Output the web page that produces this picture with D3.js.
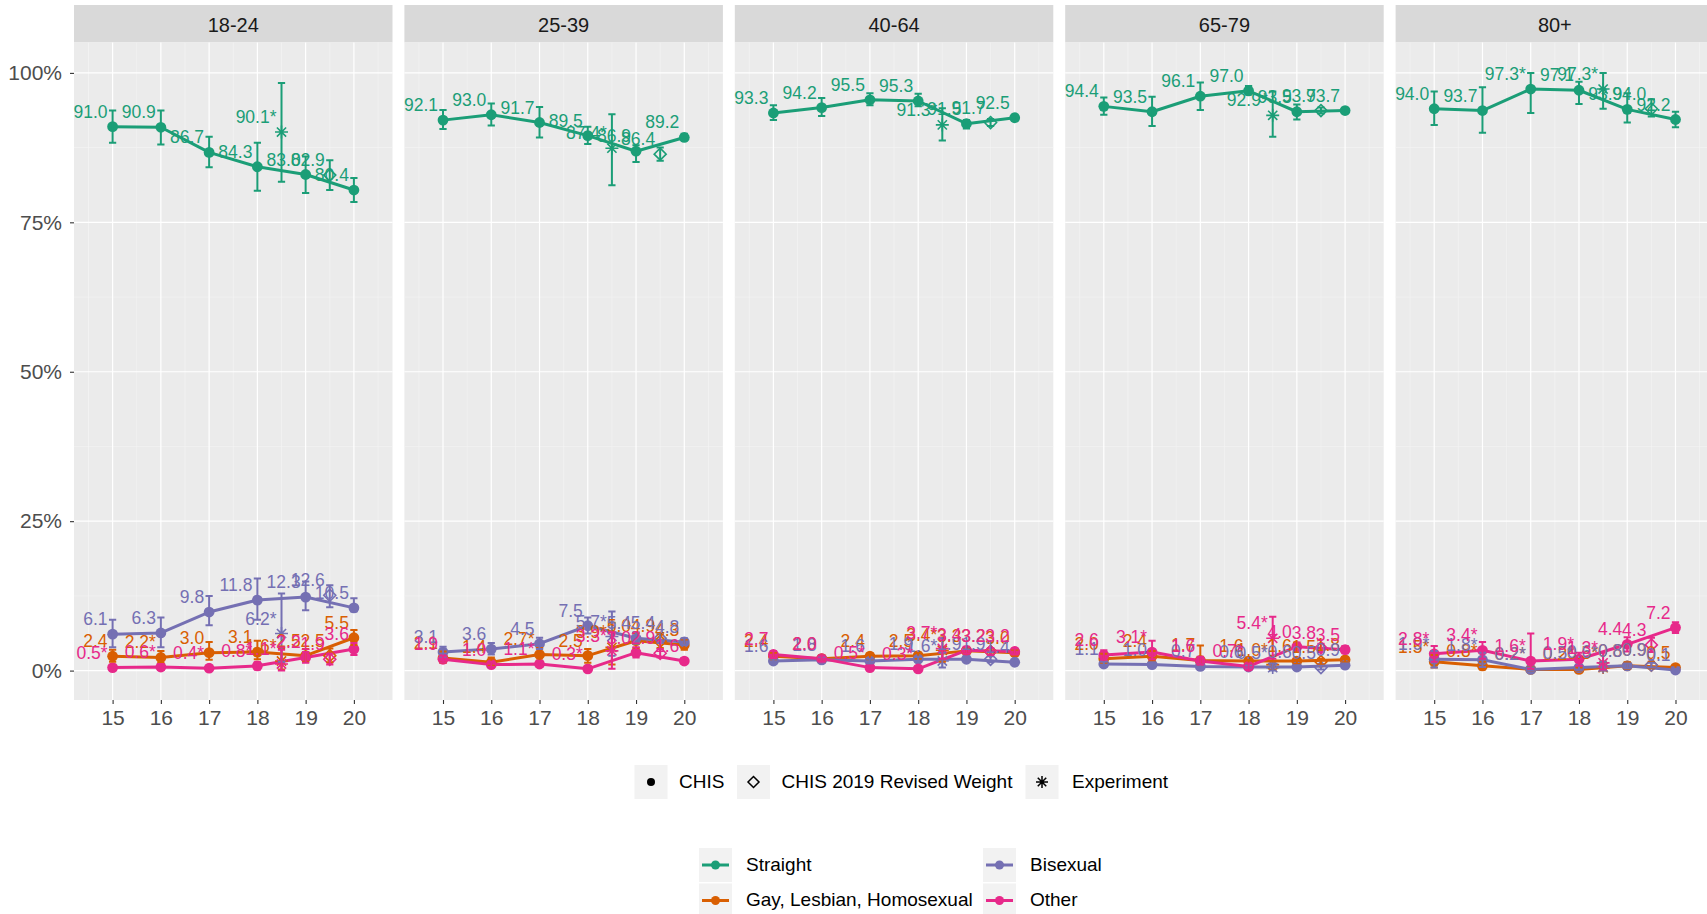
<!DOCTYPE html>
<html><head><meta charset="utf-8">
<script src="https://cdn.jsdelivr.net/npm/d3@7"></script>
<style>
html,body{margin:0;padding:0;background:#fff;overflow:hidden}
text{font-family:"Liberation Sans",Arial,Helvetica,sans-serif}
</style></head>
<body>
<svg id="chart" width="1707" height="914"></svg>
<script>
// ---------- DATA ----------
const ages = ["18-24","25-39","40-64","65-79","80+"];
const xTicks = [15,16,17,18,19,20];
const yTicks = [0,25,50,75,100];
const yMinor = [12.5,37.5,62.5,87.5];
const xMinor = [14.5,15.5,16.5,17.5,18.5,19.5,20.5];
// point order: CHIS 15..20, Experiment, CHIS 2019 Revised Weight
const pointX = [15,16,17,18,19,20,18.5,19.5];
const pointSource = ["CHIS","CHIS","CHIS","CHIS","CHIS","CHIS","Experiment","CHIS 2019 Revised Weight"];
const sources = ["CHIS","CHIS 2019 Revised Weight","Experiment"];
const groups = ["Straight","Gay, Lesbian, Homosexual","Bisexual","Other"];
const palette = ["#1B9E77","#D95F02","#7570B3","#E7298A"];

const straightVal = [
  [91.0,90.9,86.7,84.3,83.0,80.4,90.1,82.9],
  [92.1,93.0,91.7,89.5,86.9,89.2,87.4,86.4],
  [93.3,94.2,95.5,95.3,91.5,92.5,91.3,91.7],
  [94.4,93.5,96.1,97.0,93.5,93.7,92.9,93.7],
  [94.0,93.7,97.3,97.1,93.9,92.2,97.3,94.0]];
const straightLo = [
  [88.3,88.0,84.2,80.3,79.9,78.4,81.8,80.4],
  [90.6,91.2,89.2,88.1,85.1,88.8,81.2,85.3],
  [92.1,92.8,94.6,94.4,90.7,92.0,88.7,91.1],
  [93.0,91.1,93.8,96.4,92.2,93.3,89.3,93.2],
  [91.3,90.0,93.3,94.8,91.7,90.9,94.0,92.7]];
const straightHi = [
  [93.7,93.7,89.3,88.3,86.0,82.4,98.3,85.4],
  [93.8,94.9,94.3,91.0,87.9,89.8,93.1,87.5],
  [94.6,95.8,96.6,96.5,92.1,93.0,94.1,92.3],
  [95.9,96.0,98.4,97.8,94.7,94.1,96.9,94.2],
  [96.9,97.6,100.0,98.5,96.6,93.5,100.0,95.6]];

const gayVal = [
  [2.4,2.2,3.0,3.1,2.5,5.5,1.6,2.5],
  [2.1,1.4,2.7,2.5,5.0,4.3,3.9,4.9],
  [2.4,2.0,2.4,2.5,3.3,3.0,3.4,3.2],
  [2.0,2.4,1.7,1.6,1.6,1.8,1.0,1.5],
  [1.5,0.8,0.2,0.2,0.8,0.5,0.5,0.9]];
const gayLo = [
  [1.5,1.3,1.8,1.9,1.5,4.3,0.2,1.4],
  [1.3,0.8,1.7,1.3,3.8,3.5,1.0,3.8],
  [1.9,1.5,1.9,2.0,2.8,2.5,1.5,2.7],
  [1.3,1.6,1.0,1.1,1.1,1.4,0.1,1.0],
  [0.5,0.2,0.0,0.0,0.3,0.2,0.0,0.4]];
const gayHi = [
  [3.5,3.3,4.8,5.0,3.6,6.8,3.8,3.7],
  [3.2,2.2,3.8,3.6,6.3,5.2,8.0,6.1],
  [3.0,2.5,2.9,3.0,3.8,3.5,5.5,3.7],
  [2.8,3.3,4.2,2.2,2.1,2.2,2.5,2.0],
  [2.6,1.5,0.6,0.5,1.4,0.9,1.5,1.5]];

const biVal = [
  [6.1,6.3,9.8,11.8,12.3,10.5,6.2,12.6],
  [3.1,3.6,4.5,7.5,5.4,4.8,5.7,5.4],
  [1.6,1.8,1.6,1.9,1.9,1.4,1.6,1.9],
  [1.1,1.0,0.7,0.6,0.6,0.9,0.5,0.5],
  [1.9,1.8,0.2,0.5,0.8,0.1,0.6,0.9]];
const biLo = [
  [3.9,3.9,7.6,8.5,10.1,9.9,1.5,10.6],
  [2.3,2.7,3.6,6.2,4.5,4.3,2.5,4.6],
  [1.2,1.3,1.2,1.5,1.5,1.1,0.5,1.4],
  [0.7,0.6,0.4,0.3,0.3,0.6,0.0,0.2],
  [0.5,0.6,0.0,0.1,0.4,0.0,0.0,0.5]];
const biHi = [
  [8.5,8.9,12.5,15.4,14.9,12.1,12.9,14.3],
  [4.0,4.6,5.5,8.9,6.4,5.4,9.9,6.3],
  [2.0,2.3,2.0,2.3,2.3,1.7,3.0,2.4],
  [1.5,1.4,1.0,0.9,0.9,1.2,1.2,0.8],
  [3.3,3.0,0.5,0.9,1.2,0.3,1.5,1.3]];

const otherVal = [
  [0.5,0.6,0.4,0.8,2.2,3.6,1.1,1.9],
  [1.9,1.0,1.1,0.3,3.0,1.6,3.3,2.9],
  [2.7,2.0,0.5,0.3,3.4,3.2,3.7,3.2],
  [2.6,3.1,1.6,0.7,4.0,3.5,5.4,3.8],
  [2.8,3.4,1.6,1.9,4.4,7.2,1.3,4.3]];
const otherLo = [
  [0.1,0.1,0.0,0.2,1.3,2.6,0.0,1.0],
  [1.3,0.6,0.6,0.0,2.2,1.2,0.3,2.2],
  [2.1,1.5,0.2,0.0,2.8,2.7,2.0,2.6],
  [1.8,1.9,1.0,0.2,3.3,2.9,2.0,3.1],
  [1.5,2.0,0.3,0.8,3.2,6.3,0.2,3.1]];
const otherHi = [
  [0.9,1.1,0.8,1.4,3.1,4.6,3.5,2.8],
  [2.5,1.5,1.6,0.7,3.9,2.1,6.4,3.6],
  [3.3,2.5,0.8,0.6,4.0,3.7,5.5,3.8],
  [3.4,5.0,2.3,1.2,4.7,4.1,9.0,4.5],
  [4.1,4.8,6.2,3.0,5.6,8.1,3.0,5.5]];

// indices of estimates flagged as unstable (label gets "*")
const straightStar = [[6],[6],[6],[6],[2,6]];
const gayStar = [[1,6],[2,6],[6],[6],[0,1,2,3,6]];
const biStar = [[6],[6],[6],[6],[0,1,2,3,6]];
const otherStar = [[0,1,2,3,6],[2,3,6],[2,3,6],[1,3,6],[0,1,2,3,6]];

const seriesVal = [straightVal, gayVal, biVal, otherVal];
const seriesLo = [straightLo, gayLo, biLo, otherLo];
const seriesHi = [straightHi, gayHi, biHi, otherHi];
const seriesStar = [straightStar, gayStar, biStar, otherStar];

// ---------- LAYOUT ----------
const FONT = '"Liberation Sans",Arial,sans-serif';
const svg = d3.select("#chart");
const panelLeft0 = 74, panelStep = 330.4, panelW = 318.5;
const stripTop = 5, panelTop = 42.5, panelBottom = 700;
const y = d3.scaleLinear().domain([0,100]).range([670.6, 72.9]);
const fmt = d3.format(".1f");

function symbolPath(src, r){
  if (src === "CHIS 2019 Revised Weight")
    return `M0,${-r}L${r},0L0,${r}L${-r},0Z`;
  const d = r*0.7071;
  return `M${-r},0L${r},0M0,${-r}L0,${r}M${-d},${-d}L${d},${d}M${-d},${d}L${d},${-d}`;
}

ages.forEach((age, ai) => {
  const left = panelLeft0 + ai*panelStep;
  const x = d3.scaleLinear().domain([14.2, 20.8]).range([left, left+panelW]);
  const g = svg.append("g");
  // strip
  g.append("rect").attr("x", left).attr("y", stripTop).attr("width", panelW)
    .attr("height", panelTop - stripTop).attr("fill", "#D9D9D9");
  g.append("text").attr("x", left + panelW/2).attr("y", (stripTop+panelTop)/2 + 1)
    .attr("text-anchor","middle").attr("dominant-baseline","central")
    .attr("font-size", 20).attr("fill", "#1A1A1A").text(age);
  // panel
  g.append("rect").attr("x", left).attr("y", panelTop).attr("width", panelW)
    .attr("height", panelBottom - panelTop).attr("fill", "#EBEBEB");
  yMinor.forEach(v => g.append("line").attr("x1", left).attr("x2", left+panelW)
    .attr("y1", y(v)).attr("y2", y(v)).attr("stroke","#F5F5F5").attr("stroke-width",0.6));
  xMinor.forEach(v => g.append("line").attr("x1", x(v)).attr("x2", x(v))
    .attr("y1", panelTop).attr("y2", panelBottom).attr("stroke","#F5F5F5").attr("stroke-width",0.6));
  yTicks.forEach(v => g.append("line").attr("x1", left).attr("x2", left+panelW)
    .attr("y1", y(v)).attr("y2", y(v)).attr("stroke","#FFFFFF").attr("stroke-width",1.2));
  xTicks.forEach(v => g.append("line").attr("x1", x(v)).attr("x2", x(v))
    .attr("y1", panelTop).attr("y2", panelBottom).attr("stroke","#FFFFFF").attr("stroke-width",1.2));

  // x axis
  const xa = g.append("g").attr("transform", `translate(0,${panelBottom})`)
    .call(d3.axisBottom(x).tickValues(xTicks).tickSize(4).tickPadding(6.5).tickFormat(d3.format("d")));
  xa.select(".domain").remove();
  xa.selectAll(".tick line").attr("stroke","#333333").attr("stroke-width",1.1);
  xa.selectAll(".tick text").attr("font-size",21).attr("fill","#4D4D4D").style("font-family",FONT);
  if (ai === 0){
    const ya = g.append("g").attr("transform", `translate(${left},0)`)
      .call(d3.axisLeft(y).tickValues(yTicks).tickSize(4).tickPadding(8).tickFormat(d => d + "%"));
    ya.select(".domain").remove();
    ya.selectAll(".tick line").attr("stroke","#333333").attr("stroke-width",1.1);
    ya.selectAll(".tick text").attr("font-size",21).attr("fill","#4D4D4D").style("font-family",FONT);
  }

  const pts = groups.map((grp, gi) => pointX.map((xv, i) => ({
    grp, gi, xv, src: pointSource[i], v: seriesVal[gi][ai][i],
    lo: seriesLo[gi][ai][i], hi: seriesHi[gi][ai][i],
    star: seriesStar[gi][ai].includes(i)
  })));

  const line = d3.line().x(d => x(d.xv)).y(d => y(d.v));
  // lines (CHIS only)
  pts.forEach((arr, gi) => {
    g.append("path").datum(arr.filter(d => d.src === "CHIS"))
      .attr("d", line).attr("fill","none").attr("stroke", palette[gi])
      .attr("stroke-width", 3).attr("stroke-linejoin","round");
  });
  // points
  pts.forEach((arr, gi) => {
    arr.forEach(d => {
      if (d.src === "CHIS"){
        g.append("circle").attr("cx", x(d.xv)).attr("cy", y(d.v)).attr("r", 5.4).attr("fill", palette[gi]);
      } else {
        g.append("path").attr("transform", `translate(${x(d.xv)},${y(d.v)})`)
          .attr("d", symbolPath(d.src, d.src === "Experiment" ? 6.5 : 6))
          .attr("fill","none").attr("stroke", palette[gi]).attr("stroke-width", 1.6);
      }
    });
  });
  // error bars
  pts.forEach((arr, gi) => {
    arr.forEach(d => {
      const xl = x(d.xv - 0.075), xr = x(d.xv + 0.075), xc = x(d.xv);
      g.append("path")
        .attr("d", `M${xl},${y(d.hi)}L${xr},${y(d.hi)}M${xc},${y(d.hi)}L${xc},${y(d.lo)}M${xl},${y(d.lo)}L${xr},${y(d.lo)}`)
        .attr("stroke", palette[gi]).attr("stroke-width", 2).attr("fill","none");
    });
  });
  // labels
  pts.forEach((arr, gi) => {
    arr.forEach(d => {
      g.append("text").attr("x", x(d.xv) - 5).attr("y", y(d.v) - 9)
        .attr("text-anchor","end").attr("font-size", 17.5).attr("fill", palette[gi])
        .text(fmt(d.v) + (d.star ? "*" : ""));
    });
  });
});

// ---------- LEGENDS ----------
const lg = svg.append("g");
const shapeKeys = [{src:"CHIS", kx:634.5, tx:679},{src:"CHIS 2019 Revised Weight", kx:737, tx:781.5},{src:"Experiment", kx:1025.5, tx:1072}];
shapeKeys.forEach(k => {
  lg.append("rect").attr("x", k.kx).attr("y", 765).attr("width", 33).attr("height", 34).attr("fill","#F2F2F2");
  const cx = k.kx + 16.5, cy = 782;
  if (k.src === "CHIS") lg.append("circle").attr("cx",cx).attr("cy",cy).attr("r",4).attr("fill","#000");
  else lg.append("path").attr("transform",`translate(${cx},${cy})`)
      .attr("d", symbolPath(k.src, k.src === "Experiment" ? 6 : 5.5))
      .attr("fill","none").attr("stroke","#000").attr("stroke-width",1.5);
  lg.append("text").attr("x", k.tx).attr("y", cy - 1).attr("dominant-baseline","central")
    .attr("font-size",19).attr("fill","#000").text(k.src);
});
const colorKeys = [
  {gi:0, kx:699, ky:848, tx:746},
  {gi:2, kx:983, ky:848, tx:1030},
  {gi:1, kx:699, ky:883.5, tx:746},
  {gi:3, kx:983, ky:883.5, tx:1030}];
colorKeys.forEach(k => {
  lg.append("rect").attr("x", k.kx).attr("y", k.ky).attr("width", 33).attr("height", 34).attr("fill","#F2F2F2");
  const cy = k.ky + 17;
  lg.append("line").attr("x1", k.kx+3).attr("x2", k.kx+30).attr("y1", cy).attr("y2", cy)
    .attr("stroke", palette[k.gi]).attr("stroke-width", 3);
  lg.append("circle").attr("cx", k.kx+16.5).attr("cy", cy).attr("r", 4.5).attr("fill", palette[k.gi]);
  lg.append("text").attr("x", k.tx).attr("y", cy - 1).attr("dominant-baseline","central")
    .attr("font-size",19).attr("fill","#000").text(groups[k.gi]);
});
</script>
</body></html>
